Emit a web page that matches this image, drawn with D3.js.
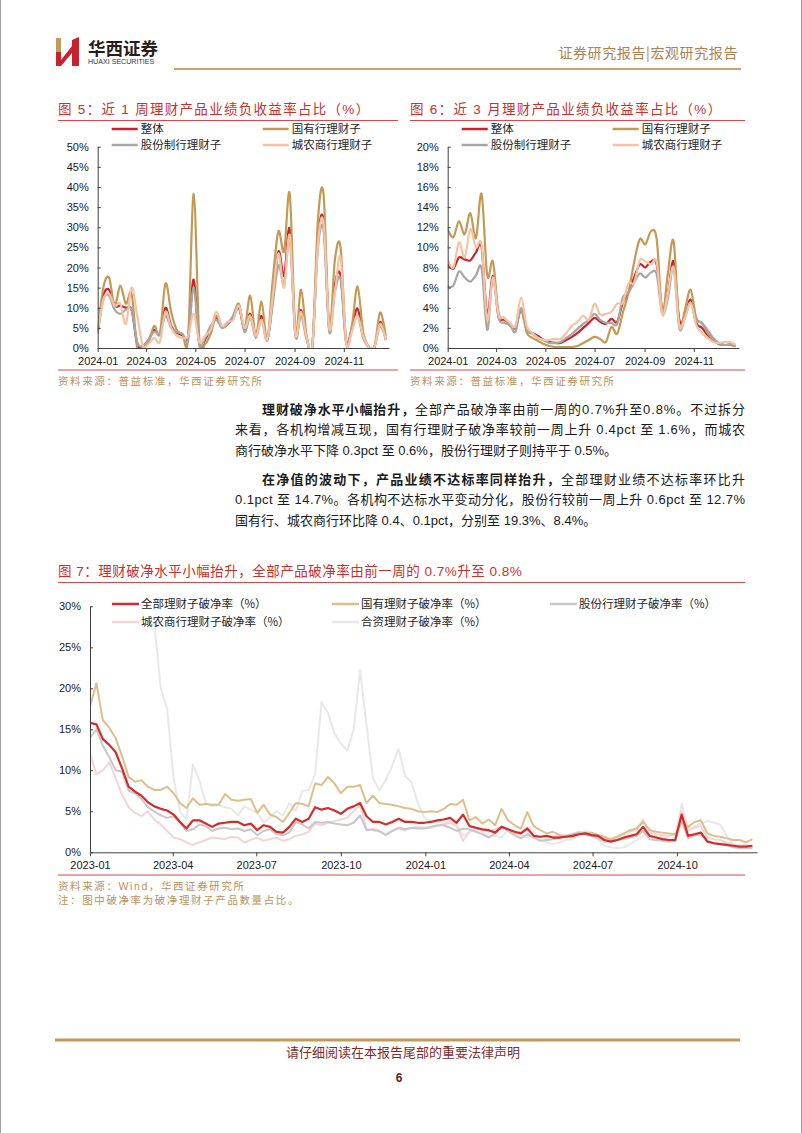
<!DOCTYPE html>
<html>
<head>
<meta charset="utf-8">
<script src="https://cdn.jsdelivr.net/npm/d3@7/dist/d3.min.js"></script>
<style>
html,body{margin:0;padding:0;background:#fff;}
svg{display:block;}
</style>
</head>
<body>
<svg id="page" width="802" height="1133" xmlns="http://www.w3.org/2000/svg"></svg>
<script>
// ================= DATA =================
// Figures 5 & 6: weekly, 2024
const names56 = ["整体", "国有行理财子", "股份制行理财子", "城农商行理财子"];
const ticks56 = ["2024-01", "2024-03", "2024-05", "2024-07", "2024-09", "2024-11"];
const weekStart56 = "2024-01-01";

// Fig 5: share of products with negative 1-week return (%)
const w1All   = [4,13,14.5,10.5,10.5,10,9.5,1,0.5,2,4.5,3.5,10,5.5,3.8,3.2,3,17,1,2,5,7.5,5.3,6,7.5,10,4.5,8.5,3,8,2,12,24,18,29.5,3.5,9.5,2.5,0.5,27,31.5,5,16,18,1.5,5,9.8,3,0.3,0.3,6.5,2];
const w1Soe   = [4,15,17.5,10.5,15.5,11,13.5,0,0.5,1.5,5.5,3.5,16,9,4.5,3.5,2.5,38.3,2,1,3.5,8,5,6,8,11,5,13,3,11.5,2,17,29,24,38.3,4,14.5,3,0.5,32,38,4.5,22,25,1.5,5.5,15.3,4,0.3,0.3,8.8,3];
const w1Jsb   = [3.5,12,13,9.5,8.5,9.5,9.5,1.5,0.5,2,4,3.5,8,5,4,3.5,2,15,0.8,2.5,5.5,7,5,6,8,10.5,4,7.5,2.5,7,1.8,11,20.5,16,27,3,8,2,0.5,25,29,4,14,17,1.2,4.5,8,2.5,0.2,0.3,5.5,2];
const w1Rural = [4,12,13.5,10.5,11,6,15,8,0.5,1,2.5,1.5,9,5,3,2.5,3,8.5,1.5,3,4.5,9,5.5,6.5,7,10.5,5,8,3,7,2,13,23.5,15,28,3.5,9,2.5,0.5,26,31,5,14,22.5,1,4,8,3,0.3,0.3,6,2];

// Fig 6: share of products with negative 3-month return (%)
const m3All   = [8.3,7.9,9.0,8.8,8.7,9.5,10.0,3.3,7.2,3.2,2.8,2.4,2.0,3.8,1.8,1.5,1.2,0.8,0.6,0.5,0.5,0.8,1.1,1.5,2.0,2.5,3.0,2.6,2.4,2.9,2.6,4.5,5.5,7.0,8.3,8.0,8.6,8.3,3.8,5.5,8.6,2.8,3.2,4.8,2.5,2.0,1.3,0.8,0.4,0.3,0.3,0.2];
const m3Soe   = [11.8,11.0,12.6,11.3,13.4,10.9,15.3,7.2,8.6,3.5,3.0,2.2,2.2,3.8,1.5,1.0,0.7,0.4,0.2,0.1,0.1,0.1,0.1,0.2,0.5,0.8,1.1,0.9,0.6,2.1,1.4,3.5,5.5,8.5,10.8,10.3,11.6,10.8,3.6,7.5,10.6,2.2,3.8,5.8,3.0,2.5,1.5,0.8,0.4,0.3,0.3,0.2];
const m3Jsb   = [6.1,6.2,7.6,7.0,6.6,7.2,7.9,1.8,7.0,3.0,2.5,2.3,1.6,4.0,1.8,1.4,1.0,0.8,0.5,0.5,0.6,1.0,1.4,1.9,2.4,2.8,3.4,2.8,2.5,2.5,2.4,5.0,5.5,6.5,7.4,7.0,7.5,7.3,3.4,5.0,8.0,2.0,3.0,4.5,2.8,2.5,1.8,1.0,0.5,0.3,0.4,0.3];
const m3Rural = [8.8,8.0,10.5,9.0,11.8,10.0,10.2,2.8,7.0,3.3,3.0,2.5,2.2,5.0,2.2,1.5,1.0,0.8,0.8,0.9,0.9,1.5,2.2,2.6,3.2,2.8,4.4,3.3,3.4,3.6,4.4,4.5,6.4,6.5,8.7,8.6,8.3,8.5,3.3,5.5,8.0,2.2,3.0,4.5,2.3,1.5,1.0,0.6,0.5,0.6,0.6,0.3];

// Figure 7: break-even ratio, weekly 2023-01 .. 2024-12 (%)
const names7 = ["全部理财子破净率（%）", "国有理财子破净率（%）", "股份行理财子破净率（%）", "城农商行理财子破净率（%）", "合资理财子破净率（%）"];
const ticks7 = ["2023-01", "2023-04", "2023-07", "2023-10", "2024-01", "2024-04", "2024-07", "2024-10"];
const weekStart7 = "2023-01-01";
const bAll = [15.8,15.6,13.8,13.1,12.2,10.2,8.0,7.4,6.9,6.1,
  5.6,5.3,5.1,4.6,3.7,2.9,3.9,3.9,3.5,3.1,
  3.5,3.6,3.7,3.7,3.3,3.5,2.7,3.3,3.1,2.5,
  2.4,3.1,4.1,3.7,4.1,5.5,5.2,5.4,5.1,4.7,
  5.3,5.6,6.0,4.4,3.7,3.7,3.4,3.7,4.1,3.7,
  3.7,3.6,3.6,3.7,3.9,4.0,4.2,3.6,4.6,3.2,
  3.0,2.8,2.7,2.4,3.1,2.8,2.5,2.3,2.9,2.0,
  1.9,2.0,1.8,1.8,1.9,2.0,2.2,2.3,2.1,2.0,
  1.5,1.3,1.5,1.8,2.0,2.2,3.1,2.0,1.8,1.6,
  1.5,1.5,4.6,2.0,2.2,2.4,1.3,1.1,1.0,0.9,
  0.8,0.7,0.7,0.8];
const bSoe = [17.8,20.6,16.1,15.2,13.9,11.7,9.2,8.6,8.8,8.0,
  7.6,7.6,8.0,7.2,6.0,5.4,6.6,5.8,5.9,5.8,
  5.8,7.1,6.4,6.3,6.4,6.5,4.8,5.8,4.6,4.3,
  3.7,4.8,6.0,5.9,5.6,8.4,8.2,9.2,8.4,7.2,
  8.0,8.0,8.2,6.0,6.9,6.0,5.9,5.8,5.6,5.4,
  5.3,5.0,4.9,5.0,4.9,5.3,5.9,5.8,6.4,3.9,
  4.3,3.5,4.0,3.3,5.3,3.9,3.3,2.9,4.9,3.2,
  2.7,2.3,2.5,2.1,1.9,1.9,2.2,2.3,2.4,2.1,
  1.9,1.5,1.9,2.3,2.7,2.9,3.7,2.7,2.5,2.4,
  2.3,2.2,3.7,3.1,3.7,3.9,2.3,2.0,1.9,1.7,
  1.5,1.5,1.2,1.6];
const bJsb = [14.0,15.0,13.0,11.6,10.0,9.8,7.5,7.2,6.5,5.5,
  5.0,4.5,4.2,4.4,3.6,2.6,2.8,3.4,3.2,2.6,
  2.9,3.0,2.8,2.9,2.6,2.8,2.1,2.6,2.8,2.2,
  2.1,2.4,3.7,3.4,2.9,3.7,3.6,3.7,3.5,3.4,
  3.3,3.6,4.5,2.7,2.8,2.6,2.1,2.6,3.0,2.8,
  3.0,2.9,2.9,3.1,3.3,3.3,3.0,2.6,2.9,2.8,
  2.5,2.2,1.8,2.3,3.1,2.6,2.1,1.7,2.2,1.8,
  1.4,1.5,1.6,1.8,2.0,2.2,2.4,2.2,2.0,1.7,
  1.3,1.4,1.5,1.6,1.8,2.0,2.6,1.6,1.5,1.4,
  1.3,1.4,3.9,1.7,2.0,2.2,1.4,1.1,1.0,0.9,
  0.6,0.5,0.5,0.5];
const bRural = [12.0,9.5,10.0,11.0,9.0,7.0,5.5,4.8,4.4,5.0,
  4.0,3.4,2.6,1.8,1.6,1.2,0.9,1.2,1.5,1.8,
  1.7,1.6,1.9,1.8,1.2,1.5,1.8,1.4,1.6,1.8,
  1.4,1.6,2.0,2.2,2.5,3.5,3.3,3.6,3.8,4.0,
  4.2,5.0,5.8,2.8,2.7,2.5,2.2,2.6,2.9,2.7,
  3.0,3.1,3.0,3.0,3.2,3.4,3.6,3.2,1.4,2.5,
  3.0,2.7,2.5,2.8,3.2,2.6,2.2,2.5,3.0,2.0,
  1.8,1.9,1.9,2.0,2.1,2.2,2.5,2.4,2.2,1.8,
  1.6,1.7,1.9,2.2,2.5,2.8,4.0,2.4,2.2,2.1,
  2.0,2.2,5.0,2.6,3.0,3.2,1.8,1.6,1.5,1.2,
  1.0,0.8,0.9,0.6];
const bJv = [null,null,null,null,null,null,null,null,null,null,
  28,20,17.5,9,5,4,10.7,8.8,6,5.6,
  5.8,5.5,5.3,4.5,5.6,5.2,4.8,3.6,4.3,5.0,
  4.5,6.0,5.0,7.5,7.6,9.5,18.3,17,14.5,13.3,
  12.4,15,22.2,15.5,9,7.6,8.8,10.6,12.6,9.3,
  8.5,6,4.2,3.8,3.7,3.6,3.8,3.5,2.0,2.5,
  2.8,2.5,2.0,2.0,1.8,2.8,2.5,2.0,1.8,2.5,
  1.5,1.2,1.0,1.2,1.5,1.6,2.0,2.6,2.4,1.6,
  0.8,0.6,0.5,0.6,1.0,1.5,2.0,3.0,2.0,1.8,
  1.6,1.5,5.9,2.8,3.2,3.5,3.8,3.6,3.4,2.0,
  1.0,0.8,0.6,0.6];

// ================= STYLE =================
const MIX = '"Liberation Sans", Arial, "Noto Sans CJK SC", sans-serif';
const CJK = '"Noto Sans CJK SC", "Liberation Sans", sans-serif';
const TITLE_RED = "#c9302c";
const SRC_GOLD = "#b8925c";
const AXIS = "#404040";
const col56 = ["#c8232c", "#c39a55", "#a6a6a6", "#f6c2a4"];
const col7 = ["#d42b2b", "#dcc08c", "#c8c8c8", "#f4d4d9", "#e8e8e8"];

const svg = d3.select("#page");
const parseDay = d3.timeParse("%Y-%m-%d");
const parseMonth = d3.timeParse("%Y-%m");
const weekly = (start, n) => d3.range(n).map(i => d3.timeDay.offset(parseDay(start), 7 * i));

// page borders
svg.append("line").attr("x1", 0.5).attr("x2", 0.5).attr("y1", 0).attr("y2", 1133).attr("stroke", "#a0a0a0");
svg.append("line").attr("x1", 801.5).attr("x2", 801.5).attr("y1", 0).attr("y2", 1133).attr("stroke", "#a0a0a0");

// ---------- header ----------
const logo = svg.append("g");
logo.append("rect").attr("x", 56).attr("y", 38).attr("width", 5).attr("height", 14).attr("fill", "#c49a5a");
logo.append("rect").attr("x", 56).attr("y", 52).attr("width", 5).attr("height", 14).attr("fill", "#c8232c");
logo.append("polygon").attr("points", "61,60 72,46 72,53 61,66").attr("fill", "#c8232c");
logo.append("polygon").attr("points", "72,40 79,37 79,66 72,66").attr("fill", "#c8232c");
svg.append("text").attr("x", 88).attr("y", 55).attr("font-family", CJK).attr("font-weight", 700)
  .attr("font-size", 17.5).attr("fill", "#2a1c1a").text("华西证券");
svg.append("text").attr("x", 88).attr("y", 64).attr("font-family", MIX)
  .attr("font-size", 7.1).attr("fill", "#333").text("HUAXI SECURITIES");
svg.append("text").attr("x", 738).attr("y", 58).attr("text-anchor", "end").attr("font-family", CJK)
  .attr("font-size", 14).attr("letter-spacing", 0.6).attr("fill", "#a8834f").text("证券研究报告|宏观研究报告");
svg.append("line").attr("x1", 174).attr("x2", 741).attr("y1", 69).attr("y2", 69)
  .attr("stroke", "#c8a46a").attr("stroke-width", 2);

// ---------- helpers ----------
function titleBlock(x0, x1, y, label, ls) {
  svg.append("text").attr("x", x0).attr("y", y).attr("font-family", MIX).attr("font-size", 13.5)
    .attr("letter-spacing", ls).attr("fill", TITLE_RED).text(label);
  svg.append("line").attr("x1", x0).attr("x2", x1).attr("y1", y + 6.5).attr("y2", y + 6.5)
    .attr("stroke", "#d9474a").attr("stroke-width", 1);
}
function sourceBlock(x0, x1, ruleY, label) {
  svg.append("line").attr("x1", x0).attr("x2", x1).attr("y1", ruleY).attr("y2", ruleY)
    .attr("stroke", "#d9474a").attr("stroke-width", 1);
  svg.append("text").attr("x", x0).attr("y", ruleY + 15).attr("font-family", MIX).attr("font-size", 10.5)
    .attr("letter-spacing", 1.6).attr("fill", SRC_GOLD).text(label);
}

function smallChart(cfg) {
  const { ox, yMax, yStep, series, title, tx0, tx1 } = cfg;
  titleBlock(tx0, tx1, 114, title, 1.3);
  const dates = weekly(weekStart56, series[0].length);
  const x = d3.scaleTime().domain([parseDay("2024-01-01"), parseDay("2024-12-27")]).range([ox, ox + 291.3]);
  const y = d3.scaleLinear().domain([0, yMax]).range([348, 146.7]);
  const g = svg.append("g");

  const clipId = "clip" + Math.round(ox);
  svg.append("clipPath").attr("id", clipId).append("rect")
    .attr("x", ox).attr("y", 140).attr("width", 300).attr("height", 208);

  const line = d3.line().x((d, i) => x(dates[i])).y(d => y(d)).curve(d3.curveCardinal.tension(0));
  const lg = g.append("g").attr("clip-path", `url(#${clipId})`);
  series.forEach((s, k) => {
    lg.append("path").attr("d", line(s)).attr("fill", "none").attr("stroke", col56[k])
      .attr("stroke-width", 2.2).attr("stroke-linejoin", "round");
  });

  const yAxis = d3.axisLeft(y).tickValues(d3.range(0, yMax + 0.001, yStep))
    .tickFormat(d => d + "%").tickSizeInner(-3).tickSizeOuter(0).tickPadding(9);
  const ya = g.append("g").attr("transform", `translate(${ox},0)`).call(yAxis);
  const xAxis = d3.axisBottom(x).tickValues(ticks56.map(parseMonth))
    .tickFormat(d3.timeFormat("%Y-%m")).tickSizeInner(4).tickSizeOuter(0).tickPadding(5);
  const xa = g.append("g").attr("transform", `translate(0,348)`).call(xAxis);
  [ya, xa].forEach(a => {
    a.selectAll("path,line").attr("stroke", AXIS);
    a.selectAll("text").attr("font-family", MIX).attr("font-size", 11).attr("fill", "#1a1a1a");
  });

  // legend
  const lx = [ox + 14, ox + 165];
  const ly = [129, 145];
  names56.forEach((n, k) => {
    const cx = lx[k % 2], cy = ly[Math.floor(k / 2)];
    svg.append("line").attr("x1", cx).attr("x2", cx + 26).attr("y1", cy).attr("y2", cy)
      .attr("stroke", col56[k]).attr("stroke-width", 2.5);
    svg.append("text").attr("x", cx + 29).attr("y", cy + 4).attr("font-family", CJK)
      .attr("font-size", 11.5).attr("fill", "#262626").text(n);
  });
  sourceBlock(tx0, tx1, 370, "资料来源：普益标准，华西证券研究所");
}

smallChart({ ox: 97.7, yMax: 50, yStep: 5, series: [w1All, w1Soe, w1Jsb, w1Rural],
  title: "图 5：近 1 周理财产品业绩负收益率占比（%）", tx0: 58, tx1: 398 });
smallChart({ ox: 447.7, yMax: 20, yStep: 2, series: [m3All, m3Soe, m3Jsb, m3Rural],
  title: "图 6：近 3 月理财产品业绩负收益率占比（%）", tx0: 410, tx1: 745 });

// ---------- paragraph ----------
const para = [
  { x: 262, y: 413.5, w: 483, parts: [{ t: "理财破净水平小幅抬升，", b: 1 }, { t: "全部产品破净率由前一周的0.7%升至0.8%。不过拆分" }] },
  { x: 235, y: 434, w: 510, parts: [{ t: "来看，各机构增减互现，国有行理财子破净率较前一周上升 0.4pct 至 1.6%，而城农" }] },
  { x: 235, y: 454.5, parts: [{ t: "商行破净水平下降 0.3pct 至 0.6%，股份行理财子则持平于 0.5%。" }] },
  { x: 262, y: 483.5, w: 483, parts: [{ t: "在净值的波动下，产品业绩不达标率同样抬升，", b: 1 }, { t: "全部理财业绩不达标率环比升" }] },
  { x: 235, y: 504, w: 510, parts: [{ t: "0.1pct 至 14.7%。各机构不达标水平变动分化，股份行较前一周上升 0.6pct 至 12.7%" }] },
  { x: 235, y: 524.5, parts: [{ t: "国有行、城农商行环比降 0.4、0.1pct，分别至 19.3%、8.4%。" }] }
];
para.forEach(p => {
  const t = svg.append("text").attr("x", p.x).attr("y", p.y).attr("font-family", MIX)
    .attr("font-size", 13).attr("fill", "#1a1a1a").attr("xml:space", "preserve");
  if (p.w) t.attr("textLength", p.w).attr("lengthAdjust", "spacing");
  p.parts.forEach(s => t.append("tspan").attr("font-weight", s.b ? 700 : 400).text(s.t));
});

// ---------- figure 7 ----------
titleBlock(58, 745, 576, "图 7：理财破净水平小幅抬升，全部产品破净率由前一周的 0.7%升至 0.8%", 0.5);
{
  const dates = weekly(weekStart7, bAll.length);
  const x = d3.scaleTime().domain([parseDay("2023-01-01"), parseDay("2024-12-27")]).range([90, 757]);
  const y = d3.scaleLinear().domain([0, 30]).range([852.3, 606.3]);
  const g = svg.append("g");
  svg.append("clipPath").attr("id", "clip7").append("rect")
    .attr("x", 90).attr("y", 606).attr("width", 670).attr("height", 247);
  const line = d3.line().defined(d => d != null).x((d, i) => x(dates[i])).y(d => y(d));
  const all = [bAll, bSoe, bJsb, bRural, bJv];
  const order = [4, 3, 2, 1, 0];
  const lg = g.append("g").attr("clip-path", "url(#clip7)");
  order.forEach(k => {
    lg.append("path").attr("d", line(all[k])).attr("fill", "none").attr("stroke", col7[k])
      .attr("stroke-width", k === 0 ? 2.2 : 2).attr("stroke-linejoin", "round");
  });
  const yAxis = d3.axisLeft(y).tickValues(d3.range(0, 31, 5)).tickFormat(d => d + "%")
    .tickSizeInner(-3).tickSizeOuter(0).tickPadding(9);
  const ya = g.append("g").attr("transform", "translate(90,0)").call(yAxis);
  const xAxis = d3.axisBottom(x).tickValues(ticks7.map(parseMonth)).tickFormat(d3.timeFormat("%Y-%m"))
    .tickSizeInner(4).tickSizeOuter(0).tickPadding(5);
  const xa = g.append("g").attr("transform", "translate(0,852.3)").call(xAxis);
  [ya, xa].forEach(a => {
    a.selectAll("path,line").attr("stroke", AXIS);
    a.selectAll("text").attr("font-family", MIX).attr("font-size", 11).attr("fill", "#1a1a1a");
  });
  const lx = [112, 332, 550];
  const ly = [604, 622];
  names7.forEach((n, k) => {
    const cx = lx[k % 3], cy = ly[Math.floor(k / 3)];
    svg.append("line").attr("x1", cx).attr("x2", cx + 27).attr("y1", cy).attr("y2", cy)
      .attr("stroke", col7[k]).attr("stroke-width", 2.5);
    svg.append("text").attr("x", cx + 29).attr("y", cy + 4).attr("font-family", CJK)
      .attr("font-size", 11.5).attr("fill", "#262626").text(n);
  });
}
sourceBlock(58, 745, 875, "资料来源：Wind，华西证券研究所");
svg.append("text").attr("x", 58).attr("y", 904).attr("font-family", MIX).attr("font-size", 10.5)
  .attr("letter-spacing", 1.6).attr("fill", SRC_GOLD).text("注：图中破净率为破净理财子产品数量占比。");

// ---------- footer ----------
svg.append("line").attr("x1", 55).attr("x2", 740).attr("y1", 1040).attr("y2", 1040)
  .attr("stroke", "#c29a5b").attr("stroke-width", 3);
svg.append("text").attr("x", 403).attr("y", 1057).attr("text-anchor", "middle").attr("font-family", CJK)
  .attr("font-size", 13).attr("fill", "#7d2c2c").text("请仔细阅读在本报告尾部的重要法律声明");
svg.append("text").attr("x", 399).attr("y", 1082).attr("text-anchor", "middle").attr("font-family", MIX)
  .attr("font-size", 12).attr("font-weight", 700).attr("fill", "#5a1c1c").text("6");
</script>
</body>
</html>
